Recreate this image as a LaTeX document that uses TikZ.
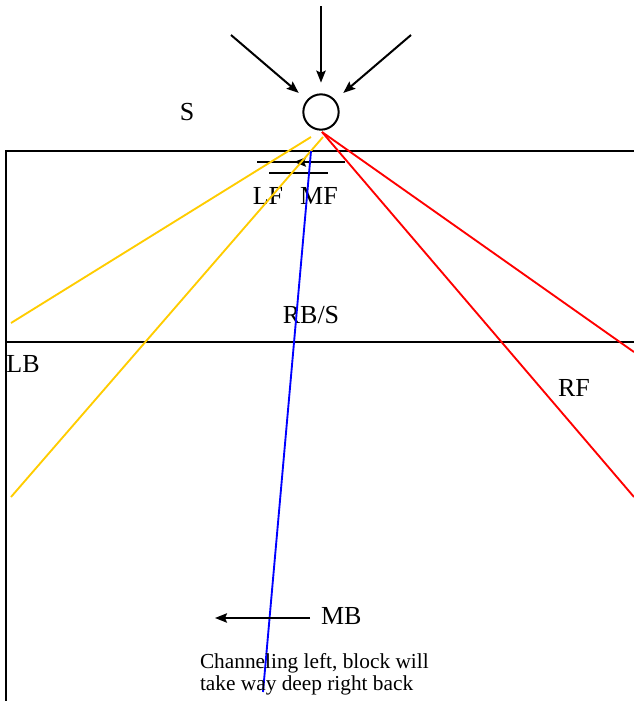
\documentclass[tikz,border=0pt]{standalone}
\usepackage{fontspec}
\setmainfont{Liberation Serif}
\usetikzlibrary{arrows.meta}
\definecolor{passyellow}{HTML}{FFCC00}
\definecolor{passred}{HTML}{FF0000}
\definecolor{passblue}{HTML}{0000FF}
\begin{document}
\begin{tikzpicture}[x=0.75pt,y=-0.75pt,line width=1.5pt,
  >={Stealth[length=9pt,width=7pt,inset=1.5pt]},
  lbl/.style={font=\fontsize{19.5}{22}\selectfont,inner sep=0pt,anchor=base},
  pass/.style={line width=1.4pt}]
\useasboundingbox (0,0) rectangle (634,701);
\draw (6,701)--(6,151)--(634,151);
\draw (6,342)--(634,342);
\node[draw,circle,minimum size=26.5pt,inner sep=0pt] (ball) at (321,112) {};
\coordinate (inN) at (321,6);
\coordinate (inW) at (231,35);
\coordinate (inE) at (411,35);
\draw[->,shorten >=8pt] (inN)--(ball);
\draw[->,shorten >=8pt] (inW)--(ball);
\draw[->,shorten >=8pt] (inE)--(ball);
\node[lbl] (s) at (187,120) {S};
\coordinate (lf1) at (257,162);
\coordinate (lf2) at (345,162);
\coordinate (lfm) at (294,162);
\draw (lf1)--(lf2);
\draw[->] (lf2)--(lfm);
\coordinate (mf1) at (269,173);
\coordinate (mf2) at (328,173);
\draw (mf1)--(mf2);
\node[lbl] (lf) at (268,204) {LF};
\node[lbl] (mf) at (319,204) {MF};
\node[lbl] (rbs) at (311,323) {RB/S};
\node[lbl] (lb) at (23,372) {LB};
\node[lbl] (rf) at (574,396) {RF};
\coordinate (y1a) at (311,137);
\coordinate (y1b) at (11,323);
\coordinate (y2a) at (323,137);
\coordinate (y2b) at (11,497);
\draw[pass,passyellow] (y1a)--(y1b);
\draw[pass,passyellow] (y2a)--(y2b);
\coordinate (r0) at (322,132);
\coordinate (r1) at (634,352);
\coordinate (r2) at (634,497);
\draw[pass,passred] (r0)--(r1);
\draw[pass,passred] (r0)--(r2);
\coordinate (b0) at (311,151);
\coordinate (b1) at (263,692);
\draw[pass,passblue] (b0)--(b1);
\node[lbl,anchor=base west] (mb) at (320,624) {MB};
\coordinate (mbs) at (310,618);
\coordinate (mbe) at (215,618);
\draw[->] (mbs)--(mbe);
\node[font=\fontsize{16}{16.5}\selectfont,align=left,inner sep=0pt,anchor=north west] (note) at (199,652)
  {Channeling left, block will\\take way deep right back};
\end{tikzpicture}
\end{document}
